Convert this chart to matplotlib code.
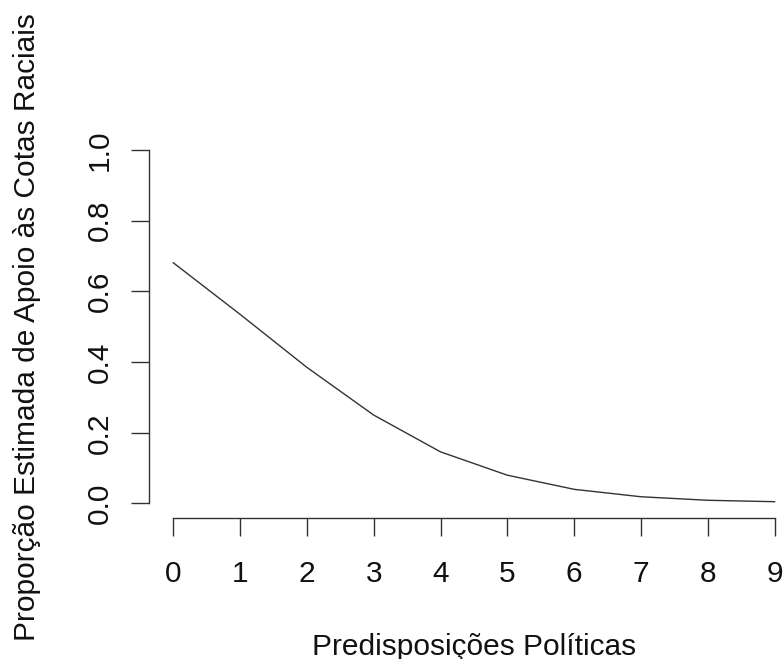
import matplotlib
matplotlib.use("Agg")
import matplotlib.pyplot as plt

# Data
predisposicoes = [0, 1, 2, 3, 4, 5, 6, 7, 8, 9]
proporcao = [0.681, 0.535, 0.385, 0.250, 0.146, 0.080, 0.040, 0.019, 0.009, 0.005]
x_ticks = [0, 1, 2, 3, 4, 5, 6, 7, 8, 9]
y_ticks = [0.0, 0.2, 0.4, 0.6, 0.8, 1.0]
y_ticklabels = ["0.0", "0.2", "0.4", "0.6", "0.8", "1.0"]
xlabel = "Predisposições Políticas"
ylabel = "Proporção Estimada de Apoio às Cotas Raciais"

plt.rcParams['font.family'] = ['Liberation Sans', 'DejaVu Sans']
FS = 21.5
LC = '#333333'

fig = plt.figure(figsize=(7.83, 6.59), dpi=100)
W, H = 783, 659
left_px, right_px = 149.25, 798.6
top_px, bottom_px = 135.86, 517.6
ax = fig.add_axes([left_px / W, (H - bottom_px) / H,
                   (right_px - left_px) / W, (bottom_px - top_px) / H])

ax.plot(predisposicoes, proporcao, color=LC, lw=1.0)
ax.set_xlim(-0.36, 9.36)
ax.set_ylim(-0.04, 1.04)

for s in ['top', 'right']:
    ax.spines[s].set_visible(False)
ax.spines['left'].set_bounds(0, 1)
ax.spines['bottom'].set_bounds(0, 9)
for s in ['left', 'bottom']:
    ax.spines[s].set_color(LC)
    ax.spines[s].set_linewidth(1.0)

ax.set_xticks(x_ticks)
ax.set_xticklabels([str(v) for v in x_ticks])
ax.set_yticks(y_ticks)
ax.set_yticklabels(y_ticklabels)
ax.tick_params(axis='both', length=13, width=1.0, color=LC, labelsize=FS,
               labelcolor='#111111')
ax.tick_params(axis='x', pad=17.3)
ax.tick_params(axis='y', pad=12.5)
for lab in ax.get_yticklabels():
    lab.set_rotation(90)
    lab.set_va('center')
    lab.set_ha('right')

ax.set_xlabel(xlabel, fontsize=FS, color='#111111', va='baseline')
ax.xaxis.set_label_coords(0.5, (bottom_px - 655) / (bottom_px - top_px))
ax.set_ylabel(ylabel, fontsize=FS, color='#111111', va='baseline',
              rotation_mode='anchor')
ax.yaxis.set_label_coords((35 - left_px) / (right_px - left_px), 0.5)

fig.savefig("out.png", dpi=100)
